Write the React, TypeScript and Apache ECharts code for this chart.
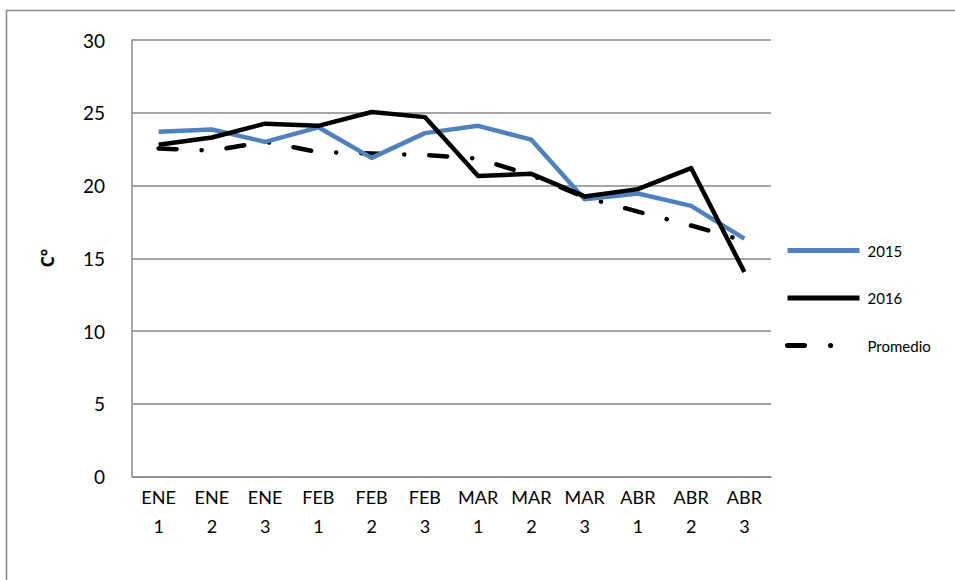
import React, { useEffect, useRef } from "react";
import * as echarts from "echarts";

const months = ["ENE", "ENE", "ENE", "FEB", "FEB", "FEB", "MAR", "MAR", "MAR", "ABR", "ABR", "ABR"];
const decades = ["1", "2", "3", "1", "2", "3", "1", "2", "3", "1", "2", "3"];
const categories = months.map((m, i) => m + "\n" + decades[i]);

const values2015 = [23.7, 23.85, 23.0, 24.0, 21.9, 23.6, 24.1, 23.15, 19.05, 19.45, 18.6, 16.35];
const values2016 = [22.8, 23.3, 24.25, 24.1, 25.05, 24.7, 20.65, 20.8, 19.25, 19.75, 21.2, 14.05];
const valuesPromedio = [22.55, 22.4, 23.0, 22.3, 22.2, 22.1, 21.85, 20.7, 19.2, 18.2, 17.25, 16.2];

const yTicks = [0, 5, 10, 15, 20, 25, 30];

const FONT = "Lato, 'Open Sans', sans-serif";
const GRID_COLOR = "#898989";

export default function App() {
  const ref = useRef<HTMLDivElement>(null);
  useEffect(() => {
    if (!ref.current) return;
    const chart = echarts.init(ref.current, undefined, { renderer: "svg" });
    chart.setOption({
      animation: false,
      backgroundColor: "#ffffff",
      grid: { left: 132, right: 184, top: 40, bottom: 103.5, containLabel: false },
      graphic: [
        {
          type: "rect",
          shape: { x: 6.5, y: 10.5, width: 1200, height: 1000 },
          style: { fill: "none", stroke: GRID_COLOR, lineWidth: 1.5 },
          silent: true,
          z: -1,
        },
      ],
      legend: {
        orient: "vertical",
        left: 785,
        top: 243,
        padding: 0,
        itemWidth: 72,
        itemHeight: 16,
        itemGap: 32.5,
        itemStyle: { opacity: 0 },
        lineStyle: { width: 5 },
        textStyle: { fontFamily: FONT, fontSize: 15, color: "#000", padding: [0, 0, 0, 3] },
        data: [
          "2015",
          "2016",
          { name: "Promedio", lineStyle: { type: [17, 26, 0.1, 80], cap: "round" } },
        ],
      },
      xAxis: {
        type: "category",
        data: categories,
        boundaryGap: true,
        axisLine: { show: true, lineStyle: { color: GRID_COLOR, width: 1.5 } },
        axisTick: { show: false },
        axisLabel: {
          interval: 0,
          fontFamily: FONT,
          fontSize: 18,
          color: "#000",
          lineHeight: 29,
          margin: 6,
        },
        splitLine: { show: false },
      },
      yAxis: {
        type: "value",
        min: yTicks[0],
        max: yTicks[yTicks.length - 1],
        interval: 5,
        name: "Cº",
        nameLocation: "middle",
        nameGap: 76,
        nameRotate: 90,
        nameTextStyle: { fontFamily: "'Open Sans', sans-serif", fontSize: 18, fontWeight: "bold", color: "#000" },
        axisLine: { show: true, lineStyle: { color: GRID_COLOR, width: 1.5 } },
        axisTick: { show: false },
        axisLabel: { fontFamily: FONT, fontSize: 19, color: "#000", margin: 27 },
        splitLine: { show: true, lineStyle: { color: GRID_COLOR, width: 1.5 } },
      },
      series: [
        {
          name: "2015",
          type: "line",
          data: values2015,
          symbol: "none",
          color: "#4F81BD",
          lineStyle: { color: "#4F81BD", width: 4.5, join: "round" },
          z: 2,
        },
        {
          name: "2016",
          type: "line",
          data: values2016,
          symbol: "none",
          color: "#000000",
          lineStyle: { color: "#000000", width: 4.5, join: "round" },
          z: 3,
        },
        {
          name: "Promedio",
          type: "line",
          data: valuesPromedio,
          symbol: "none",
          color: "#000000",
          lineStyle: {
            color: "#000000",
            width: 4.5,
            type: [18, 25, 0.1, 25],
            cap: "round",
            join: "round",
          },
          z: 1,
        },
      ],
    });
    return () => chart.dispose();
  }, []);
  return (
    <div
      ref={ref}
      style={{ position: "fixed", left: 0, top: 0, width: 955, height: 580, background: "#fff" }}
    />
  );
}
